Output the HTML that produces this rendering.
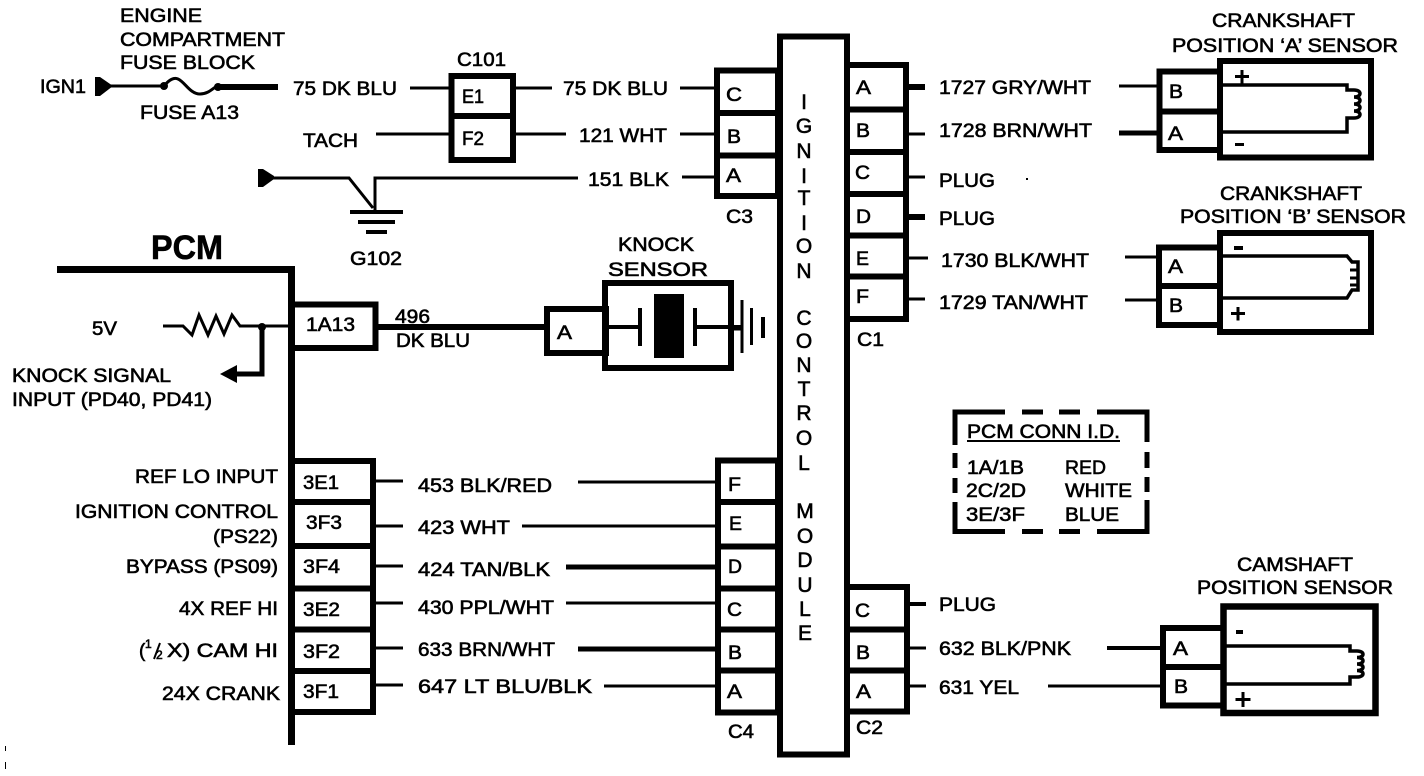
<!DOCTYPE html>
<html><head><meta charset="utf-8"><style>
html,body{margin:0;padding:0;background:#fff}
svg{display:block}
text{font-family:"Liberation Sans",sans-serif;font-size:19px;fill:#000;stroke:#000;stroke-width:.6px}
.v{font-size:21px}
.l{fill:none;stroke:#000;stroke-width:3}
.t{fill:none;stroke:#000;stroke-width:5}
.b{fill:none;stroke:#000;stroke-width:6}
.f{fill:#000;stroke:none}
</style></head><body>
<svg width="1424" height="776" viewBox="0 0 1424 776" xmlns="http://www.w3.org/2000/svg">
<rect width="1424" height="776" fill="#fff"/>

<!-- top left fuse -->
<path class="f" d="M95 77h5l13 9-13 10h-5z"/>
<path class="l" d="M110 86H163"/>
<circle class="f" cx="164" cy="86" r="4"/>
<path class="l" d="M165 85c4-5 9-8 13-6 7 3 12 15 22 15 8 0 12-5 17-8"/>
<circle class="f" cx="218" cy="87" r="4"/>
<path class="t" style="stroke-width:6" d="M218 87H278"/>
<text x="120" y="22" textLength="82" lengthAdjust="spacingAndGlyphs">ENGINE</text>
<text x="120" y="46" textLength="165" lengthAdjust="spacingAndGlyphs">COMPARTMENT</text>
<text x="120" y="69" textLength="135" lengthAdjust="spacingAndGlyphs">FUSE BLOCK</text>
<text x="40" y="93" textLength="46" lengthAdjust="spacingAndGlyphs">IGN1</text>
<text x="140" y="119" textLength="99" lengthAdjust="spacingAndGlyphs">FUSE A13</text>
<text x="293" y="95" textLength="104" lengthAdjust="spacingAndGlyphs">75 DK BLU</text>
<text x="303" y="147" textLength="55" lengthAdjust="spacingAndGlyphs">TACH</text>
<text x="457" y="66" textLength="49" lengthAdjust="spacingAndGlyphs">C101</text>

<path class="l" d="M410 88H449M376 134H449M514 88H552M514 134H566"/>
<path class="b" d="M451.500 76H513V160H451.500ZM451.500 116H513"/>
<text x="462" y="103" textLength="22" lengthAdjust="spacingAndGlyphs">E1</text>
<text x="462" y="145" textLength="22" lengthAdjust="spacingAndGlyphs">F2</text>
<text x="563" y="95" textLength="105" lengthAdjust="spacingAndGlyphs">75 DK BLU</text>
<text x="579" y="142" textLength="88" lengthAdjust="spacingAndGlyphs">121 WHT</text>
<text x="588" y="186" textLength="81" lengthAdjust="spacingAndGlyphs">151 BLK</text>
<path class="l" d="M680 88H716M680 134H716M682 177H716"/>

<!-- ground -->
<path class="f" d="M258 169h5l11 7v3l-11 8h-5z"/>
<path class="l" d="M270 178H349L373 208"/>
<path class="l" d="M375 210V178H578"/>
<path class="l" style="stroke-width:4" d="M350 212H403"/>
<path class="l" style="stroke-width:4" d="M358 222H395M366 232H387"/>
<text x="350" y="265" textLength="52" lengthAdjust="spacingAndGlyphs">G102</text>

<!-- C3 -->
<path class="b" d="M717 70.500H778V196H717ZM717 113H778M717 155.500H778"/>
<text x="726" y="101" textLength="16" lengthAdjust="spacingAndGlyphs">C</text>
<text x="727" y="143" textLength="14" lengthAdjust="spacingAndGlyphs">B</text>
<text x="726" y="182" textLength="15" lengthAdjust="spacingAndGlyphs">A</text>
<text x="726" y="223" textLength="27" lengthAdjust="spacingAndGlyphs">C3</text>

<!-- module -->
<path class="b" d="M780 36.500H847V754.500H780Z"/>
<g text-anchor="middle">
<text class="v" x="804" y="109">I</text><text class="v" x="804" y="133">G</text><text class="v" x="804" y="158">N</text><text class="v" x="804" y="183">I</text><text class="v" x="804" y="205">T</text><text class="v" x="804" y="230">I</text><text class="v" x="804" y="253">O</text><text class="v" x="804" y="278">N</text>
<text class="v" x="804" y="325">C</text><text class="v" x="804" y="348">O</text><text class="v" x="804" y="372">N</text><text class="v" x="804" y="396">T</text><text class="v" x="804" y="420">R</text><text class="v" x="804" y="445">O</text><text class="v" x="804" y="470">L</text>
<text class="v" x="805" y="518">M</text><text class="v" x="805" y="543">O</text><text class="v" x="805" y="567">D</text><text class="v" x="805" y="592">U</text><text class="v" x="805" y="616">L</text><text class="v" x="805" y="640">E</text>
</g>

<!-- C1 -->
<path class="b" d="M847 65H906V319H847M847 109.500H906M847 152H906M847 194H906M847 235.500H906M847 276.500H906"/>
<text x="856" y="94" textLength="15" lengthAdjust="spacingAndGlyphs">A</text>
<text x="856" y="137" textLength="14" lengthAdjust="spacingAndGlyphs">B</text>
<text x="855" y="179" textLength="15" lengthAdjust="spacingAndGlyphs">C</text>
<text x="856" y="223" textLength="15" lengthAdjust="spacingAndGlyphs">D</text>
<text x="856" y="265" textLength="13" lengthAdjust="spacingAndGlyphs">E</text>
<text x="856" y="303" textLength="13" lengthAdjust="spacingAndGlyphs">F</text>
<text x="857" y="346" textLength="27" lengthAdjust="spacingAndGlyphs">C1</text>
<path class="b" d="M908 87H925M908 217H925"/>
<path class="l" d="M908 134H925M908 177H925M908 258H928M908 299H925"/>
<text x="939" y="94" textLength="152" lengthAdjust="spacingAndGlyphs">1727 GRY/WHT</text>
<text x="939" y="137" textLength="153" lengthAdjust="spacingAndGlyphs">1728 BRN/WHT</text>
<text x="939" y="187" textLength="56" lengthAdjust="spacingAndGlyphs">PLUG</text>
<text x="939" y="225" textLength="56" lengthAdjust="spacingAndGlyphs">PLUG</text>
<text x="941" y="267" textLength="148" lengthAdjust="spacingAndGlyphs">1730 BLK/WHT</text>
<text x="939" y="309" textLength="149" lengthAdjust="spacingAndGlyphs">1729 TAN/WHT</text>
<rect class="f" x="1026" y="178" width="2" height="2"/>

<!-- Crank A -->
<text x="1212" y="27" textLength="143" lengthAdjust="spacingAndGlyphs">CRANKSHAFT</text>
<text x="1172" y="52" textLength="226" lengthAdjust="spacingAndGlyphs">POSITION ‘A’ SENSOR</text>
<path class="l" d="M1119 86H1158"/><path class="t" d="M1119 133H1158"/>
<path class="b" d="M1220 71.500H1159.500V150H1220M1159.500 111.500H1220"/>
<path class="b" d="M1220 61H1371V157.500H1220Z"/>
<path d="M1223 85H1347V90H1354c8 0 8 7 0 7c8 0 8 7 0 7c8 0 8 7 0 7c8 0 8 7 0 7H1347V132H1223" fill="none" stroke="#000" stroke-width="3.500"/>
<path class="f" d="M1240.500 70h3v5h5.500v3h-5.500v5.500h-3v-5.500h-5.500v-3h5.500z"/>
<rect class="f" x="1235" y="143" width="9" height="3"/>
<text x="1169" y="98" textLength="14" lengthAdjust="spacingAndGlyphs">B</text>
<text x="1168" y="140" textLength="15" lengthAdjust="spacingAndGlyphs">A</text>

<!-- Crank B -->
<text x="1220" y="200" textLength="142" lengthAdjust="spacingAndGlyphs">CRANKSHAFT</text>
<text x="1180" y="223" textLength="226" lengthAdjust="spacingAndGlyphs">POSITION ‘B’ SENSOR</text>
<path class="l" d="M1125 257H1158M1125 300H1158"/>
<path class="b" d="M1220 247.500H1159V325H1220M1159 286H1220"/>
<path class="b" d="M1220 233H1371V332H1220Z"/>
<path d="M1223 256H1347L1352 262H1358V290H1352L1347 298H1223" fill="none" stroke="#000" stroke-width="3.500"/>
<path class="l" d="M1350 270H1358M1350 278H1358M1350 285H1358"/>
<rect class="f" x="1234" y="246" width="9" height="4"/>
<path class="f" d="M1236.500 307h3v5h5.500v3h-5.500v5.500h-3v-5.500h-5.500v-3h5.500z"/>
<text x="1168" y="273" textLength="15" lengthAdjust="spacingAndGlyphs">A</text>
<text x="1169" y="312" textLength="14" lengthAdjust="spacingAndGlyphs">B</text>

<!-- PCM -->
<text x="151" y="259" textLength="72" lengthAdjust="spacingAndGlyphs" style="font-size:34px;font-weight:bold;stroke-width:.6px">PCM</text>
<path d="M57 269.500H291.500V745" fill="none" stroke="#000" stroke-width="7"/>
<path class="b" d="M292 304.500H375.500V348H292"/>
<text x="306" y="331" textLength="49" lengthAdjust="spacingAndGlyphs">1A13</text>
<text x="92" y="335" textLength="25" lengthAdjust="spacingAndGlyphs">5V</text>
<path class="l" d="M163 326H183L192 335 199 315 208 335 216 316 224 334 232 315 240 326H290"/>
<circle class="f" cx="262" cy="327" r="4"/>
<path class="t" d="M262 326V374H235"/>
<path class="f" d="M220 374L237 365V383Z"/>
<text x="12" y="382" textLength="159" lengthAdjust="spacingAndGlyphs">KNOCK SIGNAL</text>
<text x="12" y="406" textLength="200" lengthAdjust="spacingAndGlyphs">INPUT (PD40, PD41)</text>

<path class="b" d="M378 327H546"/>
<text x="395" y="323" textLength="35" lengthAdjust="spacingAndGlyphs">496</text>
<text x="396" y="347" textLength="74" lengthAdjust="spacingAndGlyphs">DK BLU</text>
<text x="618" y="251" textLength="76" lengthAdjust="spacingAndGlyphs">KNOCK</text>
<text x="608" y="276" textLength="100" lengthAdjust="spacingAndGlyphs">SENSOR</text>

<!-- knock sensor -->
<path class="b" d="M547 309H606V353H547Z"/>
<path class="b" d="M605 283H731V368H605Z"/>
<rect class="f" x="654" y="294" width="30" height="64"/>
<path class="l" style="stroke-width:4" d="M607 327H640M696 327H742"/>
<path class="l" style="stroke-width:4" d="M640 308V346M695 308V346"/>
<path class="t" d="M728 328H742"/>
<path class="l" d="M742 300V353"/>
<path class="l" d="M751.500 308V345"/>
<rect class="f" x="761" y="317" width="4" height="21"/>
<text x="557" y="339" textLength="15" lengthAdjust="spacingAndGlyphs">A</text>

<!-- left pins -->
<path class="b" d="M292 461H373V712H292M292 502H373M292 546H373M292 588.500H373M292 629.500H373M292 671H373"/>
<text x="303" y="489" textLength="36" lengthAdjust="spacingAndGlyphs">3E1</text>
<text x="306" y="529" textLength="36" lengthAdjust="spacingAndGlyphs">3F3</text>
<text x="303" y="573" textLength="37" lengthAdjust="spacingAndGlyphs">3F4</text>
<text x="303" y="616" textLength="37" lengthAdjust="spacingAndGlyphs">3E2</text>
<text x="303" y="658" textLength="37" lengthAdjust="spacingAndGlyphs">3F2</text>
<text x="303" y="698" textLength="36" lengthAdjust="spacingAndGlyphs">3F1</text>

<text x="135" y="483" textLength="143" lengthAdjust="spacingAndGlyphs">REF LO INPUT</text>
<text x="75" y="518" textLength="203" lengthAdjust="spacingAndGlyphs">IGNITION CONTROL</text>
<text x="213" y="543" textLength="65" lengthAdjust="spacingAndGlyphs">(PS22)</text>
<text x="126" y="573" textLength="152" lengthAdjust="spacingAndGlyphs">BYPASS (PS09)</text>
<text x="179" y="615" textLength="99" lengthAdjust="spacingAndGlyphs">4X REF HI</text>
<text x="139" y="657" textLength="6">(</text>
<text x="145" y="648" style="font-size:12px">1</text>
<path class="l" style="stroke-width:2" d="M154 659L160 643"/>
<text x="156" y="659" style="font-size:12px">2</text>
<text x="167" y="657" textLength="111" lengthAdjust="spacingAndGlyphs">X) CAM HI</text>
<text x="162" y="700" textLength="118" lengthAdjust="spacingAndGlyphs">24X CRANK</text>

<text x="418" y="492" textLength="134" lengthAdjust="spacingAndGlyphs">453 BLK/RED</text>
<text x="418" y="534" textLength="92" lengthAdjust="spacingAndGlyphs">423 WHT</text>
<text x="418" y="576" textLength="132" lengthAdjust="spacingAndGlyphs">424 TAN/BLK</text>
<text x="418" y="614" textLength="136" lengthAdjust="spacingAndGlyphs">430 PPL/WHT</text>
<text x="418" y="656" textLength="137" lengthAdjust="spacingAndGlyphs">633 BRN/WHT</text>
<text x="418" y="693" textLength="174" lengthAdjust="spacingAndGlyphs">647 LT BLU/BLK</text>
<path class="l" d="M376 481H403M376 526H403M376 566H403M376 603H403M376 648H403M376 685H403"/>
<path class="l" d="M578 482H716M522 526H716M566 603H716M604 686H716"/>
<path class="t" d="M566 567H716M578 649H716"/>

<path class="b" d="M718 460.500H778V712.500H718ZM718 502H778M718 546.500H778M718 588.500H778M718 629.500H778M718 670.500H778"/>
<text x="728" y="491" textLength="13" lengthAdjust="spacingAndGlyphs">F</text>
<text x="729" y="530" textLength="13" lengthAdjust="spacingAndGlyphs">E</text>
<text x="728" y="573" textLength="14" lengthAdjust="spacingAndGlyphs">D</text>
<text x="727" y="616" textLength="15" lengthAdjust="spacingAndGlyphs">C</text>
<text x="728" y="659" textLength="14" lengthAdjust="spacingAndGlyphs">B</text>
<text x="727" y="698" textLength="15" lengthAdjust="spacingAndGlyphs">A</text>
<text x="728" y="738" textLength="26" lengthAdjust="spacingAndGlyphs">C4</text>

<!-- C2 -->
<path class="b" d="M847 587H907V711.500H847M847 629.500H907M847 670.500H907"/>
<text x="855" y="617" textLength="15" lengthAdjust="spacingAndGlyphs">C</text>
<text x="856" y="659" textLength="14" lengthAdjust="spacingAndGlyphs">B</text>
<text x="856" y="698" textLength="15" lengthAdjust="spacingAndGlyphs">A</text>
<text x="856" y="734" textLength="27" lengthAdjust="spacingAndGlyphs">C2</text>
<path class="l" style="stroke-width:4" d="M909 604H926"/>
<path class="l" d="M909 648H926M909 686H926"/>
<text x="939" y="611" textLength="57" lengthAdjust="spacingAndGlyphs">PLUG</text>
<text x="939" y="655" textLength="132" lengthAdjust="spacingAndGlyphs">632 BLK/PNK</text>
<text x="939" y="694" textLength="80" lengthAdjust="spacingAndGlyphs">631 YEL</text>

<!-- PCM CONN ID -->
<path class="t" d="M955 445V412H1005M1022 412H1043M1059 412H1080M1097 412H1147V442M955 453V468M955 478V493M955 502V531.500H1005M1022 531.500H1043M1059 531.500H1080M1097 531.500H1147V500M1147 452V468M1147 477V492"/>
<text x="967" y="438" textLength="153" lengthAdjust="spacingAndGlyphs">PCM CONN I.D.</text>
<path class="l" style="stroke-width:2" d="M967 441H1120"/>
<text x="967" y="474" textLength="57" lengthAdjust="spacingAndGlyphs">1A/1B</text>
<text x="966" y="497" textLength="60" lengthAdjust="spacingAndGlyphs">2C/2D</text>
<text x="966" y="521" textLength="59" lengthAdjust="spacingAndGlyphs">3E/3F</text>
<text x="1065" y="474" textLength="41" lengthAdjust="spacingAndGlyphs">RED</text>
<text x="1065" y="497" textLength="67" lengthAdjust="spacingAndGlyphs">WHITE</text>
<text x="1065" y="521" textLength="54" lengthAdjust="spacingAndGlyphs">BLUE</text>

<!-- Cam -->
<text x="1237" y="571" textLength="116" lengthAdjust="spacingAndGlyphs">CAMSHAFT</text>
<text x="1197" y="594" textLength="196" lengthAdjust="spacingAndGlyphs">POSITION SENSOR</text>
<path class="t" style="stroke-width:4" d="M1107 648H1162"/><path class="l" d="M1048 686H1162"/>
<path class="b" d="M1225 628H1163V705.500H1225M1163 667H1225"/>
<path d="M1223.500 606.500H1375.500V713H1223.500Z" fill="none" stroke="#000" stroke-width="6.500"/>
<path d="M1226 646H1350V651H1357c8 0 8 6.500 0 6.500c8 0 8 6.500 0 6.500c8 0 8 6.500 0 6.500c8 0 8 6.500 0 6.500H1350V684H1226" fill="none" stroke="#000" stroke-width="3.500"/>
<rect class="f" x="1236" y="630" width="7" height="4"/>
<path class="f" d="M1241.500 692h3v6h6v3h-6v6h-3v-6h-6v-3h6z"/>
<text x="1173" y="655" textLength="15" lengthAdjust="spacingAndGlyphs">A</text>
<text x="1174" y="693" textLength="14" lengthAdjust="spacingAndGlyphs">B</text>

<rect class="f" x="5" y="746" width="1" height="5"/><rect class="f" x="5" y="762" width="1" height="7"/>
</svg>
</body></html>
